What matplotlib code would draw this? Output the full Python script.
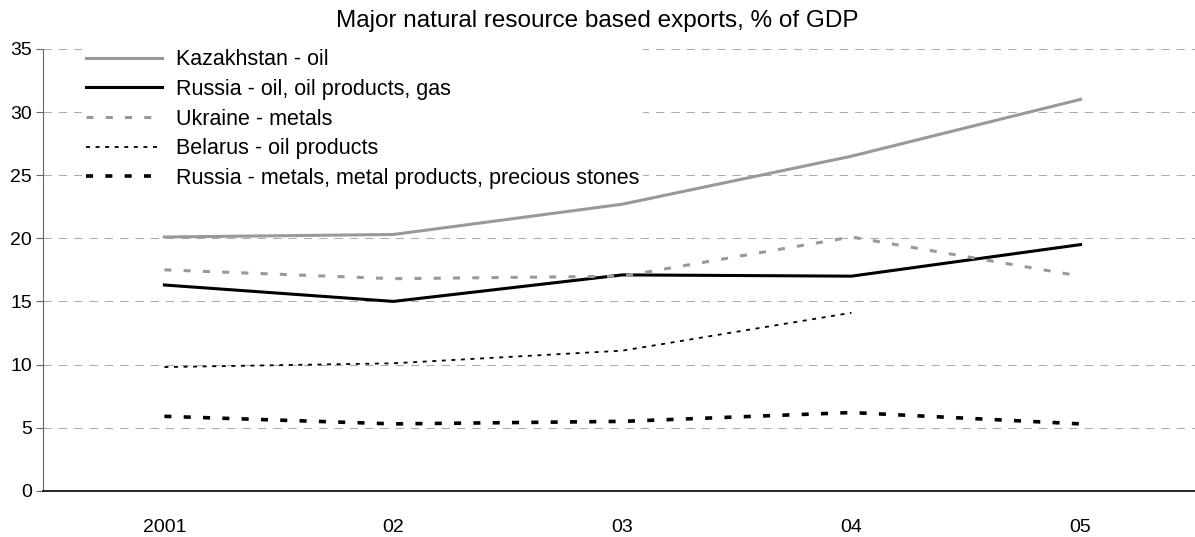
import numpy as np
import matplotlib.pyplot as plt

plt.rcParams['font.family'] = ['Liberation Sans', 'DejaVu Sans']

# Data
years = ['2001', '02', '03', '04', '05']
kazakhstan_oil = [20.1, 20.3, 22.7, 26.5, 31.0]
russia_oil = [16.3, 15.0, 17.1, 17.0, 19.5]
ukraine_metals = [17.5, 16.8, 17.0, 20.1, 17.0]
belarus_oil = [9.8, 10.1, 11.1, 14.1, np.nan]
russia_metals = [5.9, 5.3, 5.5, 6.2, 5.3]

x = np.arange(len(years))

fig = plt.figure(figsize=(11.95, 5.37), dpi=100)
ax = fig.add_axes([0.036, 0.086, 0.964, 0.823])

# gridlines first so lines sit on top
ax.set_axisbelow(True)
ax.yaxis.grid(True, color='#ababab', linestyle=(0, (8, 6.7)), linewidth=0.75)

ax.plot(x, kazakhstan_oil, color='#999999', linewidth=2.2, label='Kazakhstan - oil')
ax.plot(x, russia_oil, color='black', linewidth=2.2, label='Russia - oil, oil products, gas')
ax.plot(x, ukraine_metals, color='#999999', linewidth=2.2, linestyle=(0, (2.3, 4.0)),
        label='Ukraine - metals')
ax.plot(x, belarus_oil, color='black', linewidth=1.3, linestyle=(0, (2.2, 3.1)),
        label='Belarus - oil products')
ax.plot(x, russia_metals, color='black', linewidth=2.6, linestyle=(0, (1.95, 3.4)),
        label='Russia - metals, metal products, precious stones')

ax.set_xlim(-0.53, 4.5)
ax.set_ylim(0, 35)
ax.set_yticks(np.arange(0, 36, 5))
ax.set_xticks(x)
ax.set_xticklabels(years)

ax.spines['top'].set_visible(False)
ax.spines['right'].set_visible(False)
ax.spines['left'].set_color('#666666')
ax.spines['bottom'].set_linewidth(1.2)
ax.tick_params(axis='x', length=0, pad=20, labelsize=14)
ax.tick_params(axis='y', length=5, width=0.8, color='#666666', direction='out', pad=3,
               labelsize=14)

leg = ax.legend(loc='upper left', bbox_to_anchor=(82 / 1195, 1 - 45 / 537),
                bbox_transform=fig.transFigure, borderaxespad=0, frameon=True, fontsize=15.5,
                handlelength=3.5, handletextpad=0.65, labelspacing=0.40, borderpad=0.2)
leg.get_frame().set_facecolor('white')
leg.get_frame().set_edgecolor('none')
leg.get_frame().set_alpha(1)

fig.suptitle('Major natural resource based exports, % of GDP', x=0.5, y=0.961, va='center',
             fontsize=17.5)

fig.savefig('out.png', dpi=100)
